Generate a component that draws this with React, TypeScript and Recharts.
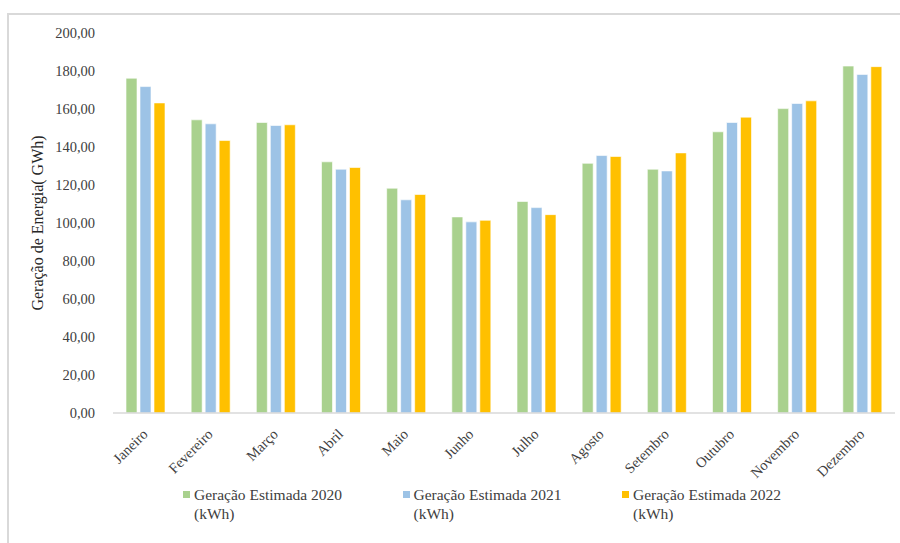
import React from "react";
import { BarChart, Bar, XAxis, YAxis, Label } from "recharts";

const months = [
  "Janeiro", "Fevereiro", "Março", "Abril", "Maio", "Junho",
  "Julho", "Agosto", "Setembro", "Outubro", "Novembro", "Dezembro",
];
const gen2020 = [176.2, 154.3, 152.9, 132.2, 118.3, 103.2, 111.3, 131.4, 128.3, 148.0, 160.2, 182.6];
const gen2021 = [171.8, 152.2, 151.3, 128.3, 112.2, 100.6, 108.1, 135.5, 127.4, 152.9, 162.9, 178.2];
const gen2022 = [163.2, 143.4, 151.7, 129.2, 115.0, 101.4, 104.4, 135.0, 136.9, 155.7, 164.3, 182.3];
const yTicks = [0, 20, 40, 60, 80, 100, 120, 140, 160, 180, 200];

const series = [
  { key: "g2020", name: "Geração Estimada 2020", unit: "(kWh)", color: "#A9D18E", values: gen2020 },
  { key: "g2021", name: "Geração Estimada 2021", unit: "(kWh)", color: "#9DC3E6", values: gen2021 },
  { key: "g2022", name: "Geração Estimada 2022", unit: "(kWh)", color: "#FFC000", values: gen2022 },
];

const data = months.map((m, i) => {
  const row: Record<string, string | number> = { month: m };
  series.forEach((s) => {
    row[s.key] = s.values[i];
  });
  return row;
});

const FONT = '"Liberation Serif", "DejaVu Serif", "Times New Roman", serif';

const fmt = (v: number) => v.toFixed(2).replace(".", ",");

const MonthTick = (props: any) => {
  const { x, y, payload } = props;
  return (
    <g transform={`translate(${x + 3},${y + 14})`}>
      <text
        x={0}
        y={0}
        textAnchor="end"
        transform="rotate(-45)"
        style={{ fontFamily: FONT }}
        fontSize={14.5}
        fill="#404040"
      >
        {payload.value}
      </text>
    </g>
  );
};

export default function App() {
  return (
    <div style={{ position: "absolute", left: 0, top: 0, width: 900, height: 543, background: "#fff", fontFamily: FONT }}>
      <div
        style={{
          position: "absolute",
          left: 7,
          top: 13,
          right: 0,
          bottom: 0,
          borderTop: "2px solid #D9D9D9",
          borderLeft: "2px solid #D9D9D9",
        }}
      />
      <div style={{ position: "absolute", left: 0, top: 0 }}>
        <BarChart
          width={900}
          height={543}
          data={data}
          margin={{ top: 33, right: 5, left: 0, bottom: 100 }}
          barSize={11}
          barGap={3}
          style={{ fontFamily: FONT }}
        >
          <XAxis
            dataKey="month"
            tick={<MonthTick />}
            tickLine={false}
            axisLine={{ stroke: "#D9D9D9", strokeWidth: 1.5 }}
            interval={0}
          />
          <YAxis
            width={113}
            domain={[0, 200]}
            ticks={yTicks}
            tickFormatter={fmt}
            axisLine={false}
            tickLine={false}
            tickMargin={12}
            tick={{ fontSize: 14.5, fill: "#404040", style: { fontFamily: FONT } }}
          >
            <Label
              value="Geração de Energia( GWh)"
              angle={-90}
              position="insideLeft"
              dx={32}
              style={{ fontFamily: FONT, fontSize: 16, fill: "#262626", textAnchor: "middle" }}
            />
          </YAxis>
          {series.map((s) => (
            <Bar
              key={s.key}
              dataKey={s.key}
              name={s.name}
              fill={s.color}
              stroke="#ffffff"
              strokeOpacity={0.6}
              strokeWidth={1}
              isAnimationActive={false}
            />
          ))}
        </BarChart>
      </div>
      {series.map((s, i) => (
        <div
          key={s.key}
          style={{
            position: "absolute",
            left: 183 + i * 219.5,
            top: 485,
            fontFamily: FONT,
            fontSize: 15.5,
            color: "#404040",
            lineHeight: "19px",
            display: "flex",
          }}
        >
          <div style={{ width: 7, height: 7, background: s.color, marginTop: 6, marginRight: 4 }} />
          <div>
            <div>{s.name}</div>
            <div>{s.unit}</div>
          </div>
        </div>
      ))}
    </div>
  );
}
